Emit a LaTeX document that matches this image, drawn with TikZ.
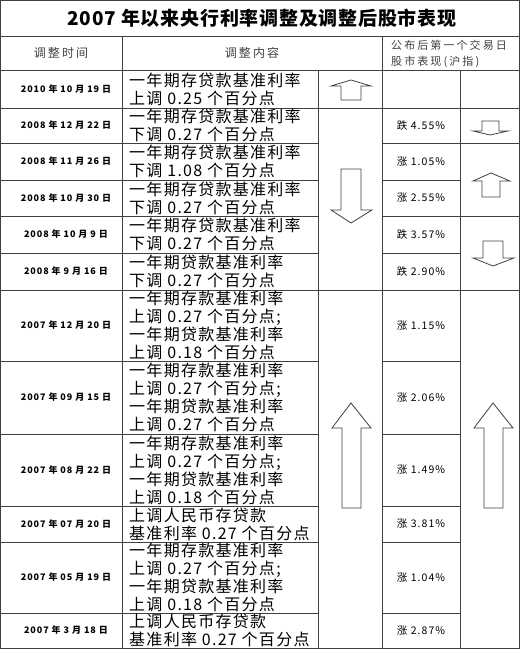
\documentclass[tikz,border=0pt]{standalone}
\usepackage{fontspec}
\setmainfont{Noto Sans CJK SC}
\newfontfamily\titlefont[LetterSpace=4]{Noto Sans CJK SC}
\newfontfamily\contfont[LetterSpace=8]{Noto Sans CJK SC}
\newfontfamily\datefont[LetterSpace=10]{Noto Sans CJK SC}
\newfontfamily\headfont[LetterSpace=17]{Noto Sans CJK SC}
\newfontfamily\pctfont[LetterSpace=10]{Noto Sans CJK SC}

\tikzset{
        grid/.style = {draw=black!75, line width=0.9pt},
        arr/.style = {draw=black!75, line width=0.8pt, fill=white, line join=miter},
        title/.style = {font=\titlefont\bfseries\fontsize{19}{22}\selectfont},
        head/.style = {text=black!75, font=\headfont\fontsize{12}{14}\selectfont},
        headsmall/.style = {text=black!75, align=left, anchor=west, font=\headfont\addfontfeature{LetterSpace=19}\fontsize{11}{15.5}\selectfont},
        date/.style = {font=\datefont\bfseries\fontsize{9}{10}\selectfont},
        content/.style = {anchor=west, align=left, font=\contfont\fontsize{16}{18}\selectfont},
        pct/.style = {font=\pctfont\fontsize{10.5}{12}\selectfont}
    }

\begin{document}
\begin{tikzpicture}[x=1pt,y=-1pt,every node/.style={inner sep=0pt}]
            \useasboundingbox (0,0) rectangle (520,650);

            % frame and rules
            \draw[grid] (0.5,0.5) rectangle (519.5,648.5);
            \draw[grid] (0,36) -- (520,36);
            \draw[grid] (0,70) -- (520,70);
            \draw[grid] (122,36) -- (122,648);
            \draw[grid] (382,36) -- (382,648);
            \draw[grid] (318,70) -- (318,648);
            \draw[grid] (460,70) -- (460,648);
            \draw[grid] (0,108) -- (520,108);
            \draw[grid] (0,290) -- (520,290);
            \draw[grid] (0,143) -- (318,143);
            \draw[grid] (382,143) -- (520,143);
            \draw[grid] (0,216) -- (318,216);
            \draw[grid] (382,216) -- (520,216);
            \draw[grid] (0,180) -- (318,180);
            \draw[grid] (382,180) -- (460,180);
            \draw[grid] (0,253) -- (318,253);
            \draw[grid] (382,253) -- (460,253);
            \draw[grid] (0,361) -- (318,361);
            \draw[grid] (382,361) -- (460,361);
            \draw[grid] (0,434) -- (318,434);
            \draw[grid] (382,434) -- (460,434);
            \draw[grid] (0,506) -- (318,506);
            \draw[grid] (382,506) -- (460,506);
            \draw[grid] (0,542) -- (318,542);
            \draw[grid] (382,542) -- (460,542);
            \draw[grid] (0,613) -- (318,613);
            \draw[grid] (382,613) -- (460,613);

            % title and header
            \node[title] (ttl) at (262,18) {2007 年以来央行利率调整及调整后股市表现};
            \node[head] (h1) at (61,53) {调整时间};
            \node[head] (h2) at (252,53) {调整内容};
            \node[headsmall] (h3) at (391,54) {公布后第一个交易日\\股市表现(沪指)};

            % dates
            \node[date] (d1) at (66,89) {2010 年 10 月 19 日};
            \node[date] (d2) at (66,125.5) {2008 年 12 月 22 日};
            \node[date] (d3) at (66,161.5) {2008 年 11 月 26 日};
            \node[date] (d4) at (66,198) {2008 年 10 月 30 日};
            \node[date] (d5) at (66,234.5) {2008 年 10 月 9 日};
            \node[date] (d6) at (66,271.5) {2008 年 9 月 16 日};
            \node[date] (d7) at (66,325.5) {2007 年 12 月 20 日};
            \node[date] (d8) at (66,397.5) {2007 年 09 月 15 日};
            \node[date] (d9) at (66,470) {2007 年 08 月 22 日};
            \node[date] (d10) at (66,524) {2007 年 07 月 20 日};
            \node[date] (d11) at (66,577.5) {2007 年 05 月 19 日};
            \node[date] (d12) at (66,630.5) {2007 年 3 月 18 日};

            % contents
            \node[content] (t1) at (129,89) {一年期存贷款基准利率\\上调 0.25 个百分点};
            \node[content] (t2) at (129,125.5) {一年期存贷款基准利率\\下调 0.27 个百分点};
            \node[content] (t3) at (129,161.5) {一年期存贷款基准利率\\下调 1.08 个百分点};
            \node[content] (t4) at (129,198) {一年期存贷款基准利率\\下调 0.27 个百分点};
            \node[content] (t5) at (129,234.5) {一年期存贷款基准利率\\下调 0.27 个百分点};
            \node[content] (t6) at (129,271.5) {一年期贷款基准利率\\下调 0.27 个百分点};
            \node[content] (t7) at (129,325.5) {一年期存款基准利率\\上调 0.27 个百分点;\\一年期贷款基准利率\\上调 0.18 个百分点};
            \node[content] (t8) at (129,397.5) {一年期存款基准利率\\上调 0.27 个百分点;\\一年期贷款基准利率\\上调 0.27 个百分点};
            \node[content] (t9) at (129,470) {一年期存款基准利率\\上调 0.27 个百分点;\\一年期贷款基准利率\\上调 0.18 个百分点};
            \node[content] (t10) at (129,524) {上调人民币存贷款\\基准利率 0.27 个百分点};
            \node[content] (t11) at (129,577.5) {一年期存款基准利率\\上调 0.27 个百分点;\\一年期贷款基准利率\\上调 0.18 个百分点};
            \node[content] (t12) at (129,630.5) {上调人民币存贷款\\基准利率 0.27 个百分点};

            % market moves
            \node[pct] (p2) at (421,125.5) {跌 4.55\%};
            \node[pct] (p3) at (421,161.5) {涨 1.05\%};
            \node[pct] (p4) at (421,198) {涨 2.55\%};
            \node[pct] (p5) at (421,234.5) {跌 3.57\%};
            \node[pct] (p6) at (421,271.5) {跌 2.90\%};
            \node[pct] (p7) at (421,325.5) {涨 1.15\%};
            \node[pct] (p8) at (421,397.5) {涨 2.06\%};
            \node[pct] (p9) at (421,470) {涨 1.49\%};
            \node[pct] (p10) at (421,524) {涨 3.81\%};
            \node[pct] (p11) at (421,577.5) {涨 1.04\%};
            \node[pct] (p12) at (421,630.5) {涨 2.87\%};

            % block arrows, rate column
            \draw[arr] (341,100) -- (341,86) -- (331,86) -- (351,80) -- (371,86) -- (361,86) -- (361,100) -- cycle;
            \draw[arr] (341,169) -- (341,210) -- (331,210) -- (351,223) -- (372,210) -- (361,210) -- (361,169) -- cycle;
            \draw[arr] (342,508) -- (342,428) -- (332,428) -- (351,403) -- (371,428) -- (361,428) -- (361,508) -- cycle;

            % block arrows, market column
            \draw[arr] (482,121) -- (482,131) -- (473,131) -- (490,135) -- (508,131) -- (499,131) -- (499,121) -- cycle;
            \draw[arr] (482,197) -- (482,181) -- (473,181) -- (491,173) -- (510,181) -- (500,181) -- (500,197) -- cycle;
            \draw[arr] (483,241) -- (483,258) -- (473,258) -- (493,266) -- (514,258) -- (503,258) -- (503,241) -- cycle;
            \draw[arr] (484,508) -- (484,428) -- (474,428) -- (493,403) -- (513,428) -- (503,428) -- (503,508) -- cycle;
        \end{tikzpicture}
\end{document}
